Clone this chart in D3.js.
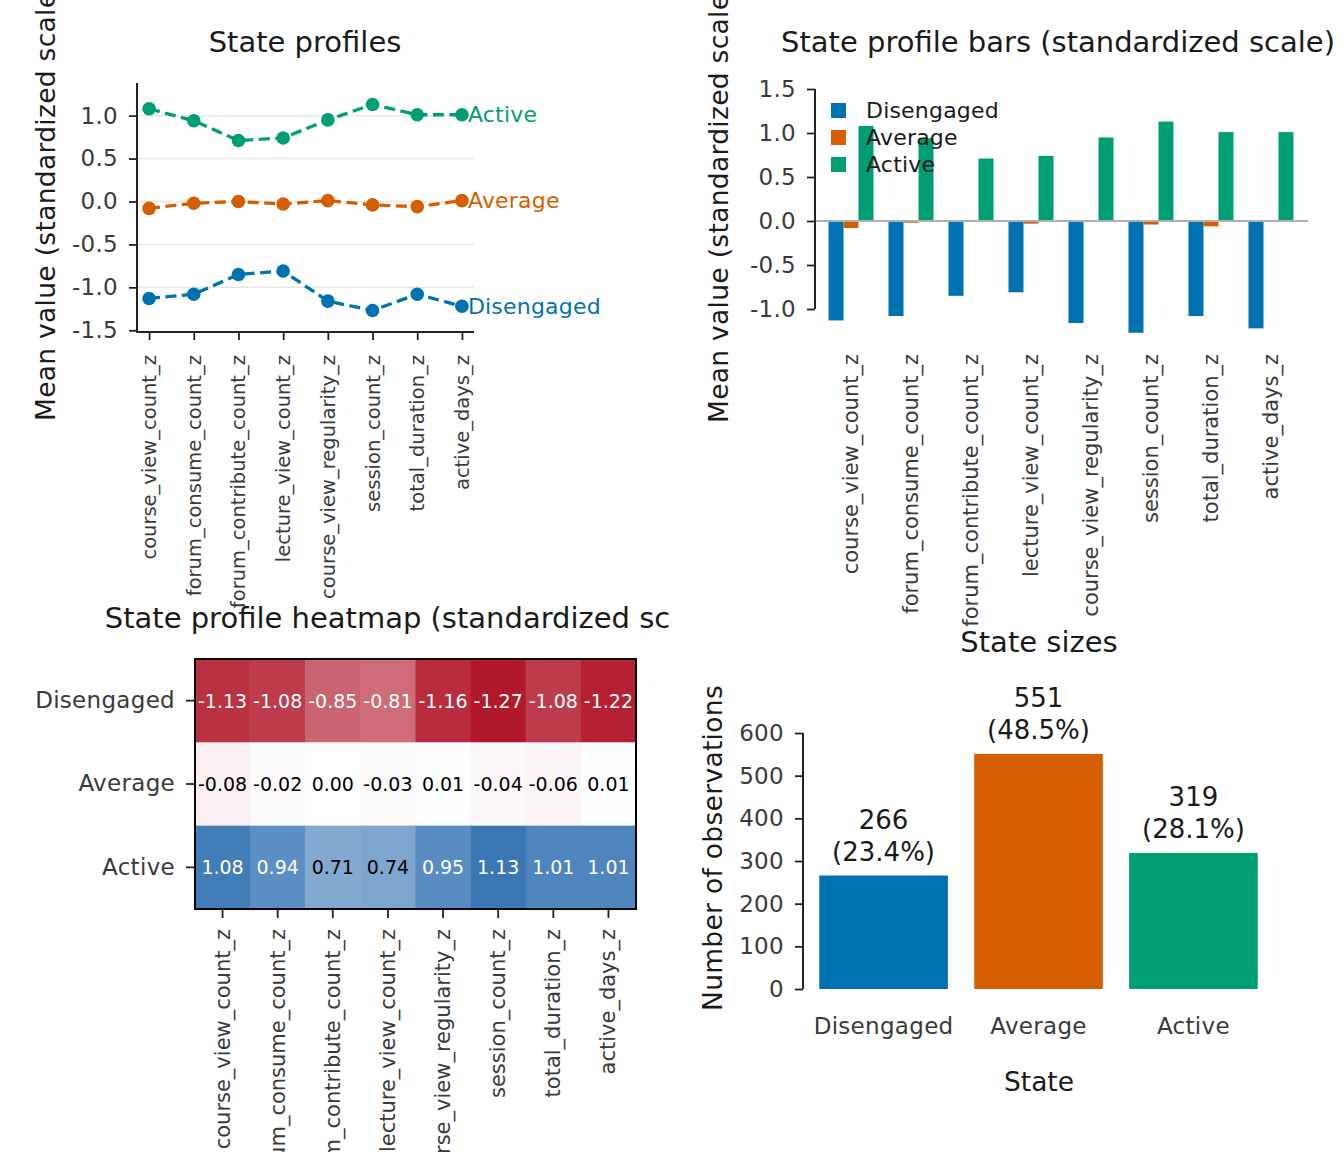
<!DOCTYPE html>
<html><head><meta charset="utf-8">
<script src="https://cdn.jsdelivr.net/npm/d3@7"></script>
<style>body{margin:0;background:#fff}svg{display:block;font-family:"DejaVu Sans",sans-serif}</style>
</head><body><svg id="c" width="1344" height="1152"></svg>
<script>
const features = ["course_view_count_z","forum_consume_count_z","forum_contribute_count_z","lecture_view_count_z","course_view_regularity_z","session_count_z","total_duration_z","active_days_z"];
const states = ["Disengaged","Average","Active"];
const colors = ["#0072B2","#D55E00","#009E73"];
const disengaged = [-1.13,-1.08,-0.85,-0.81,-1.16,-1.27,-1.08,-1.22];
const average = [-0.08,-0.02,0.00,-0.03,0.01,-0.04,-0.06,0.01];
const active = [1.08,0.94,0.71,0.74,0.95,1.13,1.01,1.01];
const counts = [266,551,319];
const profileTicks = [-1.5,-1.0,-0.5,0.0,0.5,1.0];
const barTicks = [-1.0,-0.5,0.0,0.5,1.0,1.5];
const sizeTicks = [0,100,200,300,400,500,600];

const series = [disengaged, average, active];
const svg = d3.select("#c");
const TICK = "#3a3a3a", INK = "#1a1a1a", FS_T = 29, FS_L = 26.5, FS_K = 23, LS = 0.3;
const fmt1 = v => d3.format(".1f")(v).replace("−","-");
const fmt2 = v => d3.format(".2f")(v).replace("−","-");

function title(x, y, t, g) {
  (g||svg).append("text").attr("x",x).attr("y",y).attr("text-anchor","middle")
    .attr("font-size",FS_T).attr("fill",INK).text(t);
}
function ylabel(x, y, t) {
  svg.append("text").attr("transform",`translate(${x},${y}) rotate(-90)`).attr("text-anchor","middle")
    .attr("dominant-baseline","central").attr("font-size",FS_L).attr("letter-spacing",0.3).attr("fill",INK).text(t);
}
function styleAxis(g, fs) {
  g.selectAll(".domain").remove();
  g.selectAll(".tick line").attr("stroke","#222").attr("stroke-width",1.8);
  g.selectAll(".tick text").attr("fill",TICK).attr("font-size",fs).attr("letter-spacing",LS).attr("font-family","DejaVu Sans");
}
function rotLabels(g, y0, fs) {
  g.selectAll(".tick text").attr("text-anchor","end")
   .attr("dominant-baseline","central").attr("x",0).attr("dy",null)
   .attr("y",0).attr("transform",`translate(0,${y0}) rotate(-90)`).attr("font-size",fs).attr("letter-spacing",0);
}

// ---------- Panel 1: State profiles ----------
{
  const x = d3.scaleLinear().domain([-0.27,7.27]).range([137,474]);
  const y = d3.scaleLinear().domain([-1.52,1.38]).range([332,83]);
  svg.append("g").selectAll("line").data(profileTicks.filter(t=>t>-1.5)).join("line")
    .attr("x1",137).attr("x2",474).attr("y1",d=>y(d)).attr("y2",d=>y(d))
    .attr("stroke","#e8e8e8").attr("stroke-width",1.5);
  const ya = svg.append("g").attr("transform","translate(137,0)")
    .call(d3.axisLeft(y).tickValues(profileTicks).tickFormat(fmt1).tickSize(8).tickPadding(11));
  styleAxis(ya, FS_K);
  const xa = svg.append("g").attr("transform","translate(0,332)")
    .call(d3.axisBottom(x).tickValues(d3.range(8)).tickFormat(i=>features[i]).tickSize(8));
  styleAxis(xa, 19.5);
  rotLabels(xa, 23, 19.5);
  svg.append("line").attr("x1",137).attr("x2",137).attr("y1",83).attr("y2",332).attr("stroke","#222").attr("stroke-width",2);
  svg.append("line").attr("x1",136).attr("x2",474).attr("y1",332).attr("y2",332).attr("stroke","#222").attr("stroke-width",2);
  const line = d3.line().x((d,i)=>x(i)).y(d=>y(d));
  series.forEach((s,k)=>{
    svg.append("path").attr("d",line(s)).attr("fill","none").attr("stroke",colors[k])
      .attr("stroke-width",3.3).attr("stroke-dasharray","11,5.5");
    svg.append("g").selectAll("circle").data(s).join("circle")
      .attr("cx",(d,i)=>x(i)).attr("cy",d=>y(d)).attr("r",6.8).attr("fill",colors[k]);
    svg.append("text").attr("x",x(7)+6).attr("y",y(s[7])).attr("dominant-baseline","central")
      .attr("font-size",22).attr("letter-spacing",0.2).attr("fill",colors[k]).text(states[k]);
  });
  title(305, 52, "State profiles");
  ylabel(45, 201, "Mean value (standardized scale)");
}

// ---------- Panel 2: grouped bars ----------
{
  const x = d3.scaleLinear().domain([-0.6,7.617]).range([815,1308]);
  const y = d3.scaleLinear().domain([-1.4,1.6]).range([344.2,80.2]);
  const bw = x(0.25)-x(0);
  series.forEach((s,k)=>{
    svg.append("g").selectAll("rect").data(s).join("rect")
      .attr("x",(d,i)=>x(i+(k-1)*0.25)-bw/2).attr("width",bw)
      .attr("y",d=>y(Math.max(0,d))).attr("height",d=>Math.abs(y(d)-y(0)))
      .attr("fill",colors[k]);
  });
  svg.append("line").attr("x1",815).attr("x2",1308).attr("y1",y(0)).attr("y2",y(0))
    .attr("stroke","#b0b0b0").attr("stroke-width",2);
  const ya = svg.append("g").attr("transform","translate(815,0)")
    .call(d3.axisLeft(y).tickValues(barTicks).tickFormat(fmt1).tickSize(8).tickPadding(11));
  styleAxis(ya, FS_K);
  svg.append("line").attr("x1",815).attr("x2",815).attr("y1",y(1.5)).attr("y2",y(-1.0)).attr("stroke","#222").attr("stroke-width",2);
  const xa = svg.append("g").attr("transform","translate(0,344)")
    .call(d3.axisBottom(x).tickValues(d3.range(8)).tickFormat(i=>features[i]).tickSize(0));
  styleAxis(xa, 21);
  rotLabels(xa, 10, 21);
  const lg = svg.append("g");
  states.forEach((st,k)=>{
    lg.append("rect").attr("x",831).attr("y",103+k*27).attr("width",15).attr("height",15).attr("fill",colors[k]);
    lg.append("text").attr("x",866).attr("y",110.5+k*27).attr("dominant-baseline","central")
      .attr("font-size",22).attr("letter-spacing",0.2).attr("fill",INK).text(st);
  });
  title(1058, 52, "State profile bars (standardized scale)");
  ylabel(718, 203, "Mean value (standardized scale)");
}

// ---------- Panel 3: heatmap ----------
{
  const x = d3.scaleBand().domain(features).range([195,636]);
  const y = d3.scaleBand().domain(states).range([659,909]);
  const vmax = d3.max(series.flat(), v=>Math.abs(v));
  const red = d3.interpolateRgb("#ffffff","#b2182b"), blue = d3.interpolateRgb("#ffffff","#2166ac");
  const col = v => v<0 ? red(-v/vmax) : blue(v/vmax);
  const cells = [];
  series.forEach((s,k)=>s.forEach((v,i)=>cells.push({st:states[k],f:features[i],v})));
  svg.append("g").selectAll("rect").data(cells).join("rect")
    .attr("x",d=>x(d.f)).attr("y",d=>y(d.st)).attr("width",x.bandwidth()+0.5).attr("height",y.bandwidth()+0.5)
    .attr("fill",d=>col(d.v));
  svg.append("g").selectAll("text").data(cells).join("text")
    .attr("x",d=>x(d.f)+x.bandwidth()/2).attr("y",d=>y(d.st)+y.bandwidth()/2)
    .attr("text-anchor","middle").attr("dominant-baseline","central").attr("font-size",19)
    .attr("fill",d=>Math.abs(d.v)/vmax>0.6?"#fff":"#000").text(d=>fmt2(d.v));
  svg.append("rect").attr("x",195).attr("y",659).attr("width",441).attr("height",250)
    .attr("fill","none").attr("stroke","#000").attr("stroke-width",2);
  const ya = svg.append("g").attr("transform","translate(195,0)")
    .call(d3.axisLeft(y).tickSize(9).tickPadding(11));
  styleAxis(ya, FS_K);
  const xa = svg.append("g").attr("transform","translate(0,909)")
    .call(d3.axisBottom(x).tickSize(9));
  styleAxis(xa, 21);
  rotLabels(xa, 20, 21);
  svg.append("clipPath").attr("id","hc").append("rect").attr("x",0).attr("y",580).attr("width",672).attr("height",70);
  const tg = svg.append("g").attr("clip-path","url(#hc)");
  title(415, 628, "State profile heatmap (standardized scale)", tg);
}

// ---------- Panel 4: state sizes ----------
{
  const x = d3.scaleLinear().domain([-0.52,2.52]).range([803,1274]);
  const y = d3.scaleLinear().domain([0,600]).range([989,733]);
  const bw = x(0.83)-x(0);
  const total = d3.sum(counts);
  svg.append("g").selectAll("rect").data(counts).join("rect")
    .attr("x",(d,i)=>x(i)-bw/2).attr("width",bw).attr("y",d=>y(d)).attr("height",d=>y(0)-y(d))
    .attr("fill",(d,i)=>colors[i]);
  const lab = svg.append("g").selectAll("text").data(counts).join("text")
    .attr("text-anchor","middle").attr("font-size",26).attr("fill",INK);
  lab.append("tspan").attr("x",(d,i)=>x(i)).attr("y",d=>y(d)-47).text(d=>d);
  lab.append("tspan").attr("x",(d,i)=>x(i)).attr("y",d=>y(d)-15).text(d=>`(${(d/total*100).toFixed(1)}%)`);
  const ya = svg.append("g").attr("transform","translate(803,0)")
    .call(d3.axisLeft(y).tickValues(sizeTicks).tickSize(8).tickPadding(11));
  styleAxis(ya, FS_K);
  svg.append("line").attr("x1",803).attr("x2",803).attr("y1",733).attr("y2",989).attr("stroke","#222").attr("stroke-width",2);
  svg.append("g").selectAll("text").data(states).join("text")
    .attr("x",(d,i)=>x(i)).attr("y",1034).attr("text-anchor","middle").attr("font-size",FS_K)
    .attr("letter-spacing",LS).attr("fill",TICK).text(d=>d);
  svg.append("text").attr("x",1039).attr("y",1091).attr("text-anchor","middle").attr("font-size",FS_L).attr("fill",INK).text("State");
  title(1039, 652, "State sizes");
  ylabel(712, 848, "Number of observations");
}
</script></body></html>
